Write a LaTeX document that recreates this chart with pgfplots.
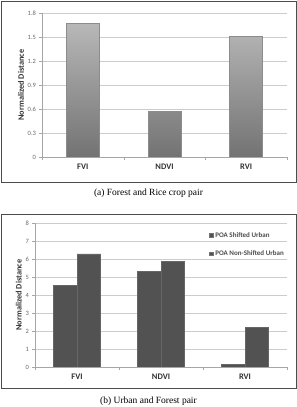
\documentclass[border=0pt]{standalone}
\usepackage{pgfplots}
\pgfplotsset{compat=1.18}
\usepackage{fontspec}
\setmainfont{Carlito}
\newfontfamily\capfont{Liberation Serif}
\begin{document}
\begin{tikzpicture}
\path[use as bounding box] (0pt,0pt) rectangle (297pt,407pt);
% frames
\draw[black!70, line width=0.8pt] (1pt,225pt) rectangle (296pt,406pt);
\draw[black!70, line width=0.8pt] (1pt,19pt) rectangle (296pt,193pt);
\node[font=\capfont\fontsize{9.5}{11}\selectfont] at (148.5pt,214pt) {(a) Forest and Rice crop pair};
\node[font=\capfont\fontsize{9.5}{11}\selectfont] at (148.5pt,6pt) {(b) Urban and Forest pair};
\pgfplotsset{
  common/.style={
    scale only axis,
    anchor=south west,
    xmin=-0.5, xmax=2.5,
    xtick={0,1,2},
    xticklabels={FVI,NDVI,RVI},
    xticklabel style={font=\bfseries\fontsize{8.5}{9}\selectfont, text=black!80},
    yticklabel style={font=\fontsize{6.5}{7}\selectfont, text=black!60},
    /pgf/number format/assume math mode=true,
    ymajorgrids,
    grid style={black!20, line width=0.4pt},
    axis x line*=bottom,
    axis y line*=left,
    axis line style={black!35},
    tick style={black!35},
    tick align=outside,
    major tick length=2.5pt,
    minor tick length=3pt,
    minor xtick={-0.5,0.5,1.5,2.5},
    major x tick style={draw=none},
    ylabel={Normalized Distance},
    ylabel style={font=\bfseries\fontsize{8.3}{9}\selectfont, text=black!80},
    xticklabel shift=1pt,
  }
}
\begin{axis}[common,
  at={(42pt,250pt)}, width=245pt, height=144pt,
  ymin=0, ymax=1.8, ytick={0,0.3,...,1.8},
  yticklabels={0,0.3,0.6,0.9,1.2,1.5,1.8},
  ylabel shift=-3pt,
  ybar, bar width=33pt]
\addplot[draw=black!45, top color=black!28, bottom color=black!55]
  coordinates {(0,1.67) (1,0.57) (2,1.51)};
\end{axis}
\begin{axis}[common,
  at={(35pt,40pt)}, width=252pt, height=144pt,
  ymin=0, ymax=8, ytick={0,1,...,8},
  ylabel shift=-3pt,
  ybar=0pt, bar width=23.5pt,
  legend style={draw=none, fill=none, at={(1.0,0.965)}, anchor=north east,
    font=\bfseries\fontsize{7}{8}\selectfont, text=black!70, row sep=8pt,
    legend cell align=left, inner xsep=1pt},
  legend image code/.code={\fill[black!55] (0pt,-1.8pt) rectangle (3.6pt,1.8pt);}]
\addplot[draw=black!60, left color=black!68, middle color=black!52, right color=black!68]
  coordinates {(0,4.55) (1,5.32) (2,0.15)};
\addplot[draw=black!60, left color=black!68, middle color=black!52, right color=black!68]
  coordinates {(0,6.28) (1,5.88) (2,2.2)};
\legend{POA Shifted Urban, POA Non-Shifted Urban}
\end{axis}
\end{tikzpicture}
\end{document}
